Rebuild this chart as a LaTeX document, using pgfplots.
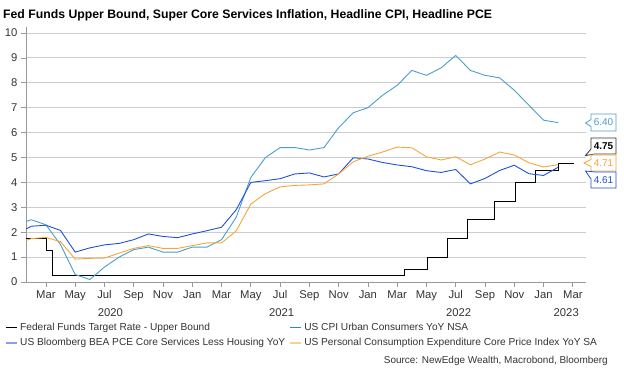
\documentclass[border=0pt]{standalone}
\usepackage{pgfplots}
\pgfplotsset{compat=1.18}
\usepackage{fontspec}
\setmainfont{Liberation Sans}
\definecolor{cpi}{HTML}{4A9FC8}
\definecolor{svc}{HTML}{2050D8}
\definecolor{pce}{HTML}{F5A53A}
\definecolor{txt}{HTML}{333333}
\definecolor{grd}{HTML}{CCCCCC}
\definecolor{axl}{HTML}{999999}
\definecolor{svcl}{HTML}{8C9EEA}
\definecolor{pcel}{HTML}{FAD090}
\definecolor{cpil}{HTML}{2A8AB8}
\begin{document}
\begin{tikzpicture}
\useasboundingbox (0,0) rectangle (624bp,375bp);
\node[anchor=base west, font=\fontsize{12.3}{14}\selectfont\bfseries, inner sep=0] at (3bp,356.5bp) {Fed Funds Upper Bound, Super Core Services Inflation, Headline CPI, Headline PCE};
\begin{axis}[
 scale only axis, width=560bp, height=255.2bp,
 at={(26bp,93bp)}, anchor=south west,
 xmin=0.64, xmax=38.9, ymin=0, ymax=10.25,
 axis x line*=bottom, axis y line*=left,
 axis line style={axl, line width=0.8bp},
 xtick={2,4,...,38},
 xticklabels={Mar,May,Jul,Sep,Nov,Jan,Mar,May,Jul,Sep,Nov,Jan,Mar,May,Jul,Sep,Nov,Jan,Mar},
 ytick={0,1,...,10},
 tick align=outside, major tick length=5bp,
 tick style={axl, line width=0.8bp},
 ymajorgrids, grid style={grd, line width=0.9bp},
 ticklabel style={font=\fontsize{11.3}{13}\selectfont, text=txt},
 /pgf/number format/assume math mode=true,
 clip mode=individual,
 legend columns=2,
 legend cell align=left,
 legend style={draw=none, fill=none, at={(axis description cs:-0.0375,-0.153)}, anchor=north west,
   font=\fontsize{10.2}{12}\selectfont, text=txt, inner sep=0pt, row sep=2bp,
   /tikz/every even column/.append style={column sep=2bp}},
 legend image code/.code={\draw[#1] (0bp,0bp) -- (11bp,0bp);},
]
\addplot[forget plot, const plot, black, line width=0.9bp] coordinates {(0.64,1.75) (2.06,1.25) (2.45,0.25) (26.5,0.5) (28.1,1.0) (29.45,1.75) (30.83,2.5) (32.67,3.25) (34.05,4.0) (35.43,4.5) (37.03,4.75) (38.05,4.75)};
\addplot[forget plot, cpi, line width=0.9bp] coordinates {(0,2.3) (1,2.5) (2,2.3) (3,1.5) (4,0.3) (5,0.1) (6,0.6) (7,1.0) (8,1.3) (9,1.4) (10,1.2) (11,1.2) (12,1.4) (13,1.4) (14,1.7) (15,2.6) (16,4.2) (17,5.0) (18,5.4) (19,5.4) (20,5.3) (21,5.4) (22,6.2) (23,6.8) (24,7.0) (25,7.5) (26,7.9) (27,8.5) (28,8.3) (29,8.6) (30,9.1) (31,8.5) (32,8.3) (33,8.2) (34,7.7) (35,7.1) (36,6.5) (37,6.4)};
\addplot[forget plot, svc, line width=0.9bp] coordinates {(0,1.93) (1,2.24) (2,2.28) (3,2.07) (4,1.2) (5,1.37) (6,1.49) (7,1.55) (8,1.7) (9,1.93) (10,1.83) (11,1.78) (12,1.93) (13,2.06) (14,2.2) (15,2.9) (16,4.0) (17,4.07) (18,4.15) (19,4.34) (20,4.38) (21,4.22) (22,4.34) (23,4.99) (24,4.94) (25,4.8) (26,4.7) (27,4.63) (28,4.47) (29,4.4) (30,4.52) (31,3.94) (32,4.16) (33,4.48) (34,4.69) (35,4.35) (36,4.28) (37,4.61)};
\addplot[forget plot, pce, line width=0.9bp] coordinates {(0,1.55) (1,1.74) (2,1.79) (3,1.62) (4,0.92) (5,0.95) (6,0.96) (7,1.16) (8,1.35) (9,1.46) (10,1.35) (11,1.35) (12,1.46) (13,1.57) (14,1.57) (15,2.05) (16,3.13) (17,3.55) (18,3.82) (19,3.88) (20,3.9) (21,3.94) (22,4.34) (23,4.83) (24,5.05) (25,5.22) (26,5.42) (27,5.39) (28,5.03) (29,4.9) (30,5.03) (31,4.71) (32,4.94) (33,5.22) (34,5.1) (35,4.79) (36,4.62) (37,4.71)};
\addlegendimage{black, line width=0.8bp}
\addlegendentry{Federal Funds Target Rate - Upper Bound}
\addlegendimage{cpil, line width=0.8bp}
\addlegendentry{US CPI Urban Consumers YoY NSA}
\addlegendimage{svcl, line width=2bp}
\addlegendentry{US Bloomberg BEA PCE Core Services Less Housing YoY}
\addlegendimage{pcel, line width=2bp}
\addlegendentry{US Personal Consumption Expenditure Core Price Index YoY SA}
\node[font=\fontsize{11.3}{13}\selectfont, text=txt] at ([yshift=-31bp]axis cs:6.4,0) {2020};
\node[font=\fontsize{11.3}{13}\selectfont, text=txt] at ([yshift=-31bp]axis cs:18.1,0) {2021};
\node[font=\fontsize{11.3}{13}\selectfont, text=txt] at ([yshift=-31bp]axis cs:30.2,0) {2022};
\node[font=\fontsize{11.3}{13}\selectfont, text=txt] at ([yshift=-31bp]axis cs:37.55,0) {2023};
\end{axis}
% value callouts
\draw[cpi, fill=white, line width=0.8bp] (591bp,261bp) -- (616bp,261bp) -- (616bp,244bp) -- (591bp,244bp) -- (591bp,248.5bp) -- (585.5bp,252bp) -- (591bp,255.5bp) -- cycle;
\node[text=cpi, font=\fontsize{10}{12}\selectfont] at (603.5bp,252.5bp) {6.40};
\draw[black!80, fill=white, line width=0.8bp] (591bp,237bp) -- (616bp,237bp) -- (616bp,221bp) -- (595bp,221bp) -- (585.5bp,219.5bp) -- (591bp,226bp) -- cycle;
\node[text=black, font=\fontsize{10}{12}\selectfont\bfseries] at (603.5bp,229bp) {4.75};
\draw[pce, fill=white, line width=0.8bp] (591bp,220bp) -- (616bp,220bp) -- (616bp,204bp) -- (591bp,204bp) -- (591bp,208.5bp) -- (584bp,212bp) -- (591bp,215.5bp) -- cycle;
\node[text=pce, font=\fontsize{10}{12}\selectfont] at (603.5bp,212bp) {4.71};
\draw[svc, fill=white, line width=0.8bp] (595bp,203bp) -- (616bp,203bp) -- (616bp,187bp) -- (591bp,187bp) -- (591bp,196bp) -- (585.5bp,204bp) -- cycle;
\node[text=svc, font=\fontsize{10}{12}\selectfont] at (603.5bp,195bp) {4.61};
\node[anchor=east, font=\fontsize{10}{12}\selectfont, text=txt, inner sep=0] at (608bp,14.3bp) {Source: NewEdge Wealth, Macrobond, Bloomberg};
\end{tikzpicture}
\end{document}
